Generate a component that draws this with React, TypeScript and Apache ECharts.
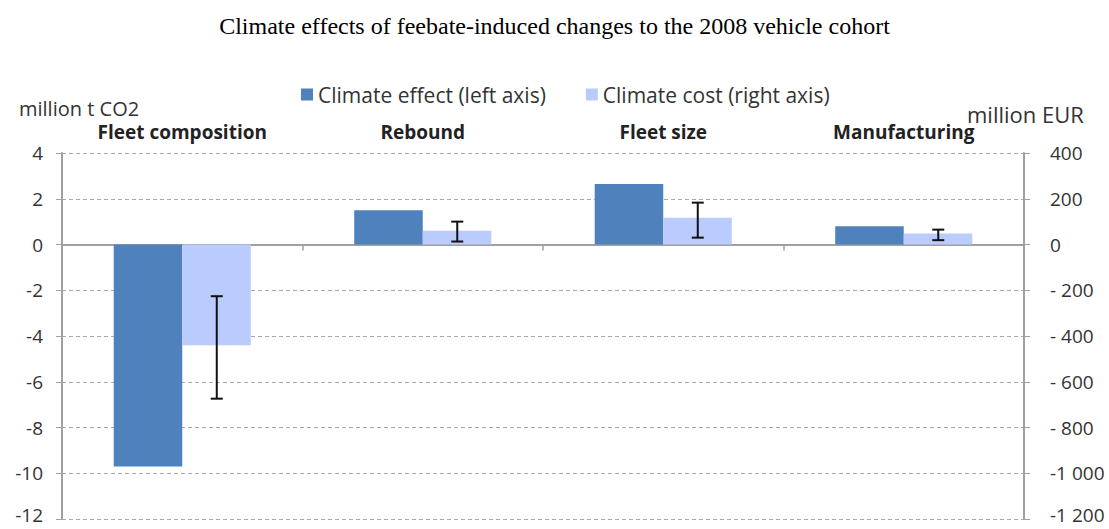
import React, { useEffect, useRef } from "react";
import * as echarts from "echarts";

const categories = ["Fleet composition", "Rebound", "Fleet size", "Manufacturing"];
const climateEffect = [-9.7, 1.5, 2.65, 0.8];
const climateCost = [-440, 60, 117, 48];
const costErrLow = [-674, 13, 30, 19];
const costErrHigh = [-226, 100, 183, 65];
const effectTicks = [4, 2, 0, -2, -4, -6, -8, -10, -12];
const costTickValues = [400, 200, 0, -200, -400, -600, -800, -1000, -1200];
const costTickLabels = ["400", "200", "0", "- 200", "- 400", "- 600", "- 800", "-1 000", "-1 200"];

const DARK = "#4F81BD";
const LIGHT = "#BACBFE";
const AXIS = "#A0A0A0";
const FONT = "'Open Sans', 'Liberation Sans', sans-serif";

export default function App() {
  const ref = useRef<HTMLDivElement>(null);
  useEffect(() => {
    if (!ref.current) return;
    const chart = echarts.init(ref.current, undefined, { renderer: "svg" });
    const errData = categories.map((_, i) => [i, costErrLow[i], costErrHigh[i]]);
    const lowRich = { low: { fontFamily: FONT, fontSize: 19, color: "#333", padding: [0, 0, 9, 0] } };
    chart.setOption({
      animation: false,
      backgroundColor: "#fff",
      title: {
        text: "Climate effects of feebate-induced changes to the 2008 vehicle cohort",
        left: "center",
        top: 9,
        textStyle: { fontFamily: "'Liberation Serif', serif", fontSize: 24, fontWeight: "normal", color: "#000" },
      },
      legend: {
        top: 79,
        left: 296,
        itemWidth: 12,
        itemHeight: 12,
        itemGap: 40,
        textStyle: { fontFamily: FONT, fontSize: 21, color: "#333" },
        data: [
          { name: "Climate effect (left axis)", icon: "rect" },
          { name: "Climate cost (right axis)", icon: "rect" },
        ],
      },
      graphic: [
        { type: "text", left: 19, top: 98, style: { text: "million t CO2", font: `20px ${FONT}`, fill: "#333" } },
        { type: "text", left: 967, top: 103, style: { text: "million EUR", font: `22px ${FONT}`, fill: "#333" } },
      ],
      grid: { left: 62, right: 85, top: 153, bottom: 10, containLabel: false },
      xAxis: [
        {
          type: "category",
          data: categories,
          position: "bottom",
          axisLine: { onZero: true, onZeroAxisIndex: 0, lineStyle: { color: AXIS, width: 2 } },
          axisTick: { show: true, length: 6, lineStyle: { color: AXIS, width: 1.5 } },
          axisLabel: { show: false },
        },
        {
          type: "category",
          data: categories,
          position: "top",
          axisLine: { show: false },
          axisTick: { show: false },
          axisLabel: { show: true, margin: 12, fontFamily: FONT, fontSize: 19, fontWeight: "bold", color: "#222" },
        },
      ],
      yAxis: [
        {
          type: "value",
          min: -12,
          max: 4,
          interval: 2,
          axisLine: { show: true, lineStyle: { color: AXIS, width: 2 } },
          axisTick: { show: true, length: 6, lineStyle: { color: AXIS } },
          axisLabel: {
            margin: 19,
            fontFamily: FONT,
            fontSize: 19,
            color: "#333",
            rich: lowRich,
            formatter: (v: number) => {
              if (!effectTicks.includes(v)) return "";
              return v === -12 ? `{low|${v}}` : String(v);
            },
          },
          splitLine: { show: true, lineStyle: { color: "#AAAAAA", type: [4, 3], width: 1 } },
        },
        {
          type: "value",
          min: -1200,
          max: 400,
          interval: 200,
          position: "right",
          axisLine: { show: true, lineStyle: { color: AXIS, width: 2 } },
          axisTick: { show: true, length: 6, lineStyle: { color: AXIS } },
          axisLabel: {
            margin: 26,
            fontFamily: FONT,
            fontSize: 19,
            color: "#333",
            rich: lowRich,
            formatter: (v: number) => {
              const i = costTickValues.indexOf(v);
              if (i < 0) return "";
              return v === -1200 ? `{low|${costTickLabels[i]}}` : costTickLabels[i];
            },
          },
          splitLine: { show: false },
        },
      ],
      series: [
        {
          name: "Climate effect (left axis)",
          type: "bar",
          xAxisIndex: 0,
          yAxisIndex: 0,
          data: climateEffect,
          barGap: "0%",
          barCategoryGap: "43%",
          itemStyle: { color: DARK },
        },
        {
          name: "Climate cost (right axis)",
          type: "bar",
          xAxisIndex: 0,
          yAxisIndex: 1,
          data: climateCost,
          itemStyle: { color: LIGHT },
        },
        {
          type: "custom",
          xAxisIndex: 0,
          yAxisIndex: 1,
          data: errData,
          z: 10,
          renderItem: (params: any, api: any) => {
            const idx = api.value(0);
            const lo = api.coord([idx, api.value(1)]);
            const hi = api.coord([idx, api.value(2)]);
            const bw = api.size([1, 0])[0];
            const x = lo[0] + bw * 0.1435;
            const cap = 6;
            const style = { stroke: "#111", lineWidth: 2 };
            return {
              type: "group",
              children: [
                { type: "line", shape: { x1: x, y1: hi[1], x2: x, y2: lo[1] }, style },
                { type: "line", shape: { x1: x - cap, y1: hi[1], x2: x + cap, y2: hi[1] }, style },
                { type: "line", shape: { x1: x - cap, y1: lo[1], x2: x + cap, y2: lo[1] }, style },
              ],
            };
          },
        },
      ],
    });
    return () => chart.dispose();
  }, []);
  return (
    <div
      ref={ref}
      style={{ position: "absolute", left: 0, top: 0, width: 1109, height: 529 }}
    />
  );
}
